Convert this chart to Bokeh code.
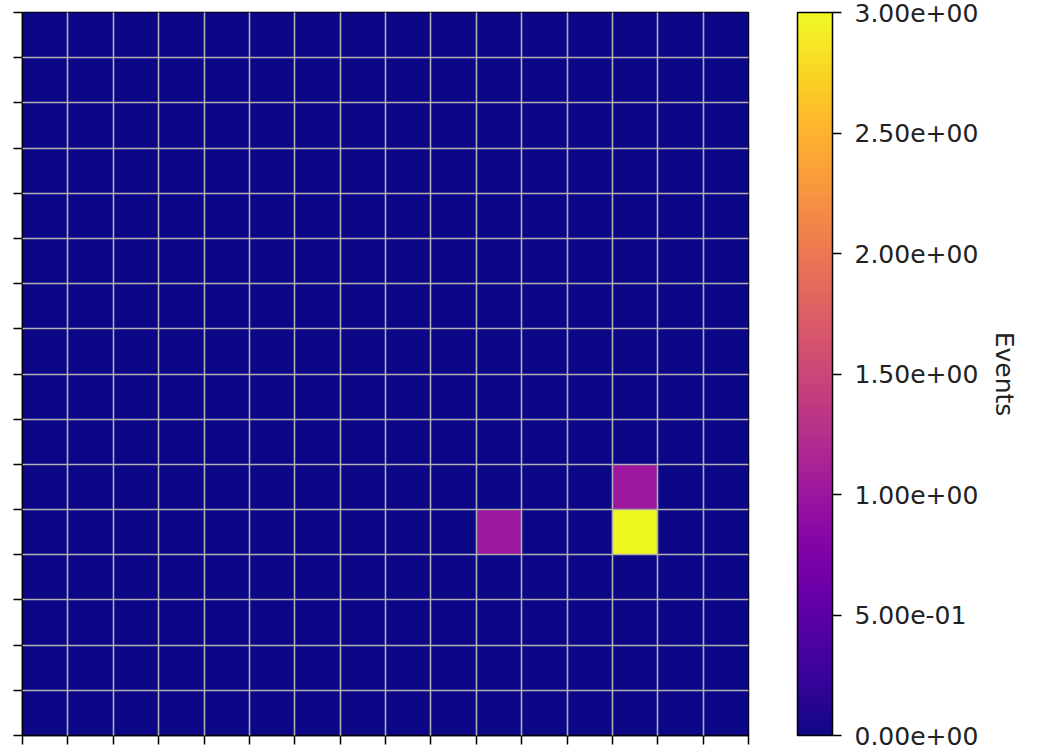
from bokeh.plotting import figure
from bokeh.models import LinearColorMapper, ColorBar, FixedTicker, Title, ColumnDataSource
from bokeh.palettes import Plasma256
from bokeh.embed import file_html
from bokeh.resources import INLINE

# Event counts per cell, top row first (16 x 16 grid)
events = [
    [0, 0, 0, 0, 0, 0, 0, 0, 0, 0, 0, 0, 0, 0, 0, 0],
    [0, 0, 0, 0, 0, 0, 0, 0, 0, 0, 0, 0, 0, 0, 0, 0],
    [0, 0, 0, 0, 0, 0, 0, 0, 0, 0, 0, 0, 0, 0, 0, 0],
    [0, 0, 0, 0, 0, 0, 0, 0, 0, 0, 0, 0, 0, 0, 0, 0],
    [0, 0, 0, 0, 0, 0, 0, 0, 0, 0, 0, 0, 0, 0, 0, 0],
    [0, 0, 0, 0, 0, 0, 0, 0, 0, 0, 0, 0, 0, 0, 0, 0],
    [0, 0, 0, 0, 0, 0, 0, 0, 0, 0, 0, 0, 0, 0, 0, 0],
    [0, 0, 0, 0, 0, 0, 0, 0, 0, 0, 0, 0, 0, 0, 0, 0],
    [0, 0, 0, 0, 0, 0, 0, 0, 0, 0, 0, 0, 0, 0, 0, 0],
    [0, 0, 0, 0, 0, 0, 0, 0, 0, 0, 0, 0, 0, 0, 0, 0],
    [0, 0, 0, 0, 0, 0, 0, 0, 0, 0, 0, 0, 0, 1, 0, 0],
    [0, 0, 0, 0, 0, 0, 0, 0, 0, 0, 1, 0, 0, 3, 0, 0],
    [0, 0, 0, 0, 0, 0, 0, 0, 0, 0, 0, 0, 0, 0, 0, 0],
    [0, 0, 0, 0, 0, 0, 0, 0, 0, 0, 0, 0, 0, 0, 0, 0],
    [0, 0, 0, 0, 0, 0, 0, 0, 0, 0, 0, 0, 0, 0, 0, 0],
    [0, 0, 0, 0, 0, 0, 0, 0, 0, 0, 0, 0, 0, 0, 0, 0],
]
colorbar_ticks = [0, 0.5, 1, 1.5, 2, 2.5, 3]
colorbar_tick_labels = ["0.00e+00", "5.00e-01", "1.00e+00", "1.50e+00",
                        "2.00e+00", "2.50e+00", "3.00e+00"]
colorbar_title = "Events"

n_rows = len(events)
n_cols = len(events[0])

xs, ys, vs = [], [], []
for r, row in enumerate(events):
    for c, v in enumerate(row):
        xs.append(c + 0.5)
        ys.append(n_rows - 1 - r + 0.5)
        vs.append(v)
src = ColumnDataSource(dict(x=xs, y=ys, v=vs))

mapper = LinearColorMapper(palette=Plasma256, low=0, high=3)

FONT = "DejaVu Sans"

p = figure(frame_width=726, frame_height=723, x_range=(0, n_cols), y_range=(0, n_rows),
           output_backend="svg", toolbar_location=None,
           min_border_top=12, min_border_left=22, min_border_bottom=20, min_border_right=0)

p.rect(x="x", y="y", width=1, height=1, source=src,
       fill_color={"field": "v", "transform": mapper}, line_color=None)

for g in (p.xgrid, p.ygrid):
    g.ticker = FixedTicker(ticks=list(range(n_cols + 1)))
    g.grid_line_color = "#b0b0b0"
    g.grid_line_width = 1.6
    g.level = "guide"

for ax in (p.xaxis, p.yaxis):
    ax.ticker = FixedTicker(ticks=list(range(n_cols + 1)))
    ax.major_tick_in = 0
    ax.major_tick_out = 9
    ax.major_tick_line_width = 1.5
    ax.major_tick_line_color = "black"
    ax.minor_tick_line_color = None
    ax.axis_line_color = "black"
    ax.axis_line_width = 1.5
    ax.major_label_overrides = {i: "" for i in range(n_cols + 1)}
    ax.major_label_standoff = 0

p.outline_line_color = "black"
p.outline_line_width = 1.5
p.outline_line_alpha = 1

cb = ColorBar(color_mapper=mapper, width=35, height=723,
              location=(49, 0),
              ticker=FixedTicker(ticks=colorbar_ticks),
              major_label_overrides=dict(zip(colorbar_ticks, colorbar_tick_labels)),
              major_label_text_font_size="25px", major_label_text_font=FONT,
              major_label_text_color="#222222",
              major_tick_in=0, major_tick_out=9,
              major_tick_line_color="black", major_tick_line_width=1.5,
              minor_tick_line_color=None,
              bar_line_color="black", bar_line_width=1.5,
              padding=0, margin=0, label_standoff=13,
              border_line_color=None, background_fill_color=None)
p.add_layout(cb, "right")

p.add_layout(Title(text=colorbar_title, align="center", text_font_size="25px", standoff=16,
                   text_font=FONT, text_font_style="normal", text_color="#222222"), "right")

open("out.html", "w").write(file_html(p, INLINE))
